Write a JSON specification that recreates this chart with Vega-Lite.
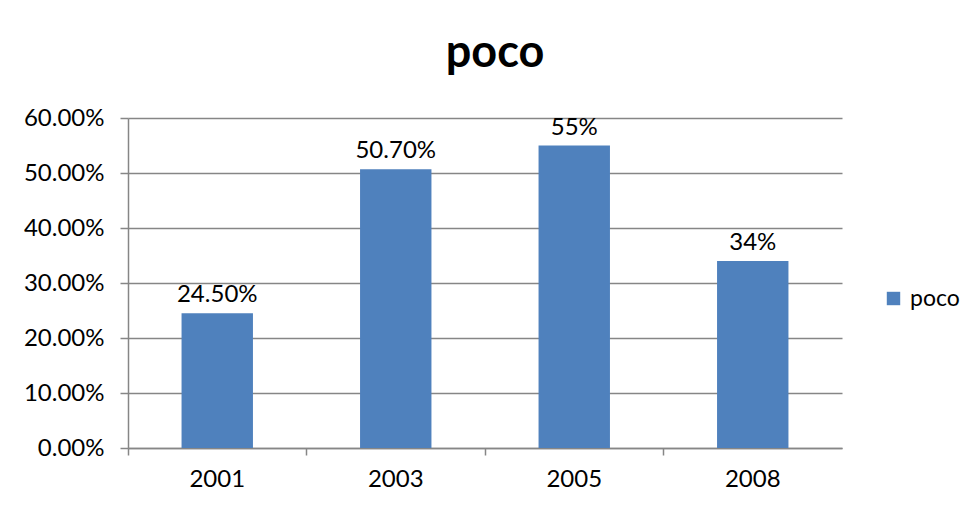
{
  "$schema": "https://vega.github.io/schema/vega-lite/v6.json",
  "width": 714,
  "height": 330,
  "autosize": "none",
  "padding": {"left": 128, "top": 118, "right": 130, "bottom": 61},
  "background": "white",
  "config": {"font": "Lato", "view": {"stroke": null}},
  "title": {"text": "poco", "fontSize": 45, "fontWeight": "bold", "font": "Lato", "color": "black", "anchor": "middle", "dx": 10, "offset": 30},
  "data": {"values": [
    {"year": "2001", "value": 0.245, "label": "24.50%", "series": "poco"},
    {"year": "2003", "value": 0.507, "label": "50.70%", "series": "poco"},
    {"year": "2005", "value": 0.55, "label": "55%", "series": "poco"},
    {"year": "2008", "value": 0.34, "label": "34%", "series": "poco"}
  ]},
  "encoding": {
    "x": {"field": "year", "type": "nominal", "title": null,
      "scale": {"paddingInner": 0, "paddingOuter": 0},
      "axis": {"bandPosition": 0, "labelAngle": 0, "labelFontSize": 24, "labelColor": "black", "labelPadding": 12, "domainColor": "#868686", "tickColor": "#868686", "tickSize": 7, "domainWidth": 1.5, "tickWidth": 1.5}},
    "y": {"field": "value", "type": "quantitative", "title": null,
      "scale": {"domain": [0, 0.6], "nice": false},
      "axis": {"format": ".2%", "values": [0, 0.1, 0.2, 0.3, 0.4, 0.5, 0.6], "labelFontSize": 24, "labelColor": "black", "labelPadding": 16, "domainColor": "#868686", "tickColor": "#868686", "gridColor": "#868686", "tickSize": 8, "domainWidth": 1.5, "tickWidth": 1.5, "gridWidth": 1.5}}
  },
  "layer": [
    {"mark": {"type": "bar", "width": {"band": 0.4}},
     "encoding": {"color": {"field": "series", "type": "nominal", "title": null,
       "scale": {"range": ["#4F81BD"]},
       "legend": {"orient": "none", "legendX": 754, "legendY": 169, "symbolType": "square", "symbolSize": 180, "symbolOpacity": 1, "labelFontSize": 23, "labelOffset": 5, "labelColor": "black", "labelFont": "Lato"}}}},
    {"mark": {"type": "text", "fontSize": 24, "baseline": "bottom", "dy": -6, "color": "black"},
     "encoding": {"text": {"field": "label"}}}
  ]
}
